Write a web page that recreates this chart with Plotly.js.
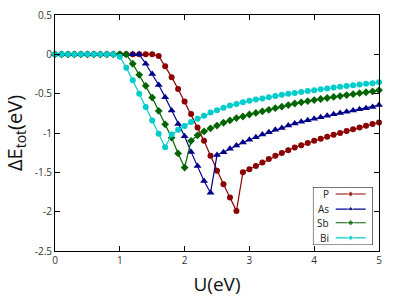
<!DOCTYPE html>
<html>
<head>
<meta charset="utf-8">
<script src="https://cdn.plot.ly/plotly-3.0.1.min.js"></script>
<style>html,body{margin:0;padding:0;background:#fff;}#chart{width:397px;height:297px;}</style>
</head>
<body>
<div id="chart"></div>
<script>
// ---- data (U step 0.1 eV, 0..5) ----
const U = [0,0.1,0.2,0.3,0.4,0.5,0.6,0.7,0.8,0.9,1.0,1.1,1.2,1.3,1.4,1.5,1.6,1.7,1.8,1.9,2.0,
  2.1,2.2,2.3,2.4,2.5,2.6,2.7,2.8,2.9,3.0,3.1,3.2,3.3,3.4,3.5,3.6,3.7,3.8,3.9,4.0,
  4.1,4.2,4.3,4.4,4.5,4.6,4.7,4.8,4.9,5.0];
const P = [0,0,0,0,0,0,0,0,0,0,0,0,0,0,0,0,-0.02,-0.15,-0.29,-0.44,-0.60,
  -0.76,-0.93,-1.10,-1.29,-1.48,-1.65,-1.82,-1.99,-1.50,-1.46,-1.42,-1.375,-1.33,-1.29,-1.255,-1.22,-1.185,-1.156,-1.128,-1.10,
  -1.074,-1.048,-1.023,-0.999,-0.976,-0.953,-0.931,-0.909,-0.887,-0.866];
const As = [0,0,0,0,0,0,0,0,0,0,0,0,0,0,-0.12,-0.25,-0.39,-0.545,-0.715,-0.885,-1.04,
  -1.24,-1.42,-1.61,-1.76,-1.28,-1.245,-1.20,-1.16,-1.12,-1.085,-1.055,-1.02,-0.99,-0.96,-0.935,-0.905,-0.878,-0.857,-0.837,-0.818,
  -0.799,-0.781,-0.763,-0.746,-0.730,-0.714,-0.699,-0.684,-0.669,-0.645];
const Sb = [0,0,0,0,0,0,0,0,0,0,0,0,-0.12,-0.26,-0.40,-0.55,-0.72,-0.89,-1.06,-1.26,-1.44,
  -1.10,-1.03,-0.98,-0.94,-0.905,-0.87,-0.84,-0.81,-0.79,-0.765,-0.745,-0.725,-0.705,-0.685,-0.665,-0.645,-0.625,-0.61,-0.596,-0.582,
  -0.568,-0.555,-0.542,-0.53,-0.518,-0.506,-0.494,-0.482,-0.471,-0.455];
const Bi = [0,0,0,0,0,0,0,0,0,0,-0.03,-0.17,-0.33,-0.50,-0.67,-0.84,-1.01,-1.18,-1.02,-0.96,-0.91,
  -0.86,-0.82,-0.78,-0.74,-0.71,-0.68,-0.65,-0.63,-0.61,-0.59,-0.575,-0.56,-0.545,-0.53,-0.515,-0.50,-0.49,-0.478,-0.466,-0.455,
  -0.444,-0.433,-0.423,-0.413,-0.403,-0.393,-0.384,-0.375,-0.366,-0.355];
const seriesNames = ['P','As','Sb','Bi'];
const xTickVals = [0,1,2,3,4,5];
const xTickText = ['0','1','2','3','4','5'];
const yTickVals = [0.5,0,-0.5,-1,-1.5,-2,-2.5];
const yTickText = ['0.5','0','-0.5','-1','-1.5','-2','-2.5'];

// ---- styles ----
const colors = ['#8b0000','#00008b','#006400','#00cccc'];
const symbols = ['circle','triangle-up','diamond','circle'];
const msizes = [6,7,6,6];
const ys = [P,As,Sb,Bi];
const FONT = 'Open Sans, DejaVu Sans, sans-serif';

const traces = ys.map((y,i)=>({
  type:'scatter', mode:'lines+markers', x:U, y:y, name:seriesNames[i],
  line:{color:colors[i], width:1.2},
  marker:{color:colors[i], symbol:symbols[i], size:msizes[i]},
  showlegend:false, xaxis:'x', yaxis:'y', cliponaxis:false
}));

// custom gnuplot-style legend (text left, sample right)
const rowY = [0.88,0.62,0.385,0.126];
const annotations = [];
seriesNames.forEach((n,i)=>{
  traces.push({type:'scatter', mode:'lines+markers', xaxis:'x2', yaxis:'y2', showlegend:false,
    x:[0.38,0.63,0.88], y:[rowY[i],rowY[i],rowY[i]],
    line:{color:colors[i], width:1.2},
    marker:{color:colors[i], symbol:symbols[i], size:[0,msizes[i]-1,0]}, hoverinfo:'skip'});
  annotations.push({xref:'x2', yref:'y2', x:0.30, y:rowY[i], text:n, showarrow:false,
    xanchor:'right', yanchor:'middle', font:{family:FONT, size:10, color:'#222'}});
});

const axisCommon = {showgrid:false, zeroline:false, showline:true, linecolor:'#000', linewidth:1,
  mirror:'ticks', ticks:'inside', ticklen:5, tickwidth:1, tickcolor:'#000',
  tickfont:{family:FONT, size:10, color:'#333'}};

const layout = {
  width:397, height:297, margin:{l:55, r:18, t:15, b:46},
  paper_bgcolor:'#fff', plot_bgcolor:'#fff', showlegend:false,
  xaxis:Object.assign({}, axisCommon, {range:[0,5], tickvals:xTickVals, ticktext:xTickText,
    title:{text:'U(eV)', font:{family:FONT, size:19, color:'#111'}, standoff:13}}),
  yaxis:Object.assign({}, axisCommon, {range:[-2.5,0.5], tickvals:yTickVals, ticktext:yTickText,
    title:{text:'ΔE<sub>tot</sub>(eV)', font:{family:FONT, size:20, color:'#111'}, standoff:6}}),
  xaxis2:{domain:[0.796,0.981], range:[0,1], visible:false, fixedrange:true, anchor:'y2'},
  yaxis2:{domain:[0.025,0.271], range:[0,1], visible:false, fixedrange:true, anchor:'x2'},
  shapes:[{type:'rect', xref:'x2', yref:'y2', x0:0, x1:1, y0:0, y1:1, line:{color:'#000', width:1}, fillcolor:'rgba(0,0,0,0)'}],
  annotations:annotations
};

Plotly.newPlot('chart', traces, layout, {staticPlot:true, displayModeBar:false});
</script>
</body>
</html>
